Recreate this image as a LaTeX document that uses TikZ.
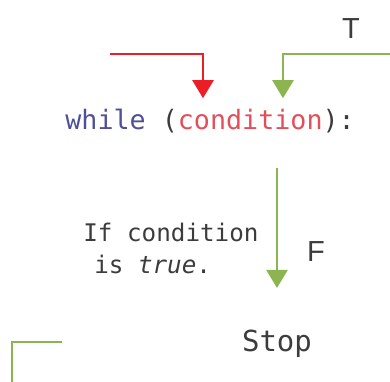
\documentclass[tikz,border=0pt]{standalone}
\usepackage{fontspec}
\setmonofont{DejaVu Sans Mono}
\setsansfont{Liberation Sans}
\usepackage{tikz}
\usetikzlibrary{arrows.meta,positioning}
\definecolor{KeyBlue}{RGB}{80,80,150}
\definecolor{CondRed}{RGB}{225,80,90}
\definecolor{CodeGray}{RGB}{60,60,60}
\definecolor{ArrRed}{RGB}{235,30,40}
\definecolor{ArrGreen}{RGB}{140,180,80}

\begin{document}
\begin{tikzpicture}[x=0.02cm,y=0.02cm,
        code/.style={font=\ttfamily\fontsize{15.2}{18}\selectfont,text=CodeGray,inner sep=0pt},
        stopnode/.style={font=\ttfamily\fontsize{16.5}{18}\selectfont,text=CodeGray,inner sep=0pt},
        note/.style={font=\ttfamily\fontsize{13.8}{18.2}\selectfont,text=CodeGray,inner sep=0pt,align=left},
        branch/.style={font=\sffamily\fontsize{16.5}{18}\selectfont,text=CodeGray,inner sep=0pt},
        rarr/.style={-{Triangle[width=0.42cm,length=0.36cm]},ArrRed,line width=1.3pt},
        garr/.style={-{Triangle[width=0.42cm,length=0.36cm]},ArrGreen,line width=1.3pt},
        gline/.style={ArrGreen,line width=1.3pt}
      ]
        \useasboundingbox (0,0) rectangle (390,382);
        \node[code,anchor=base west] (loop) at (65,252)
          {\textcolor{KeyBlue}{while} (\textcolor{CondRed}{condition}):};
        \node[stopnode,anchor=base] (stop) at (277,30) {Stop};
        \node[note,anchor=north west] (cmt) at (83,159)
          {If condition\\\hspace{0.45em}is \textit{true}.};
        \node[branch] (tlab) at (351,353) {T};
        \node[branch] (flab) at (316,130) {F};
        \coordinate (enter) at (110,328);
        \coordinate (back) at (390,328);
        \coordinate (exit) at (62,40);
        \coordinate (exitend) at (12,0);
        % into the loop test
        \draw[rarr] (enter) -| ([shift={(138,11)}]loop.north west);
        \draw[garr] (back) -| ([shift={(218,11)}]loop.north west);
        % false branch
        \draw[garr] ([shift={(212,-34)}]loop.south west) -- ([yshift=24]stop.north);
        \draw[gline] (exit) -| (exitend);
      \end{tikzpicture}
\end{document}
